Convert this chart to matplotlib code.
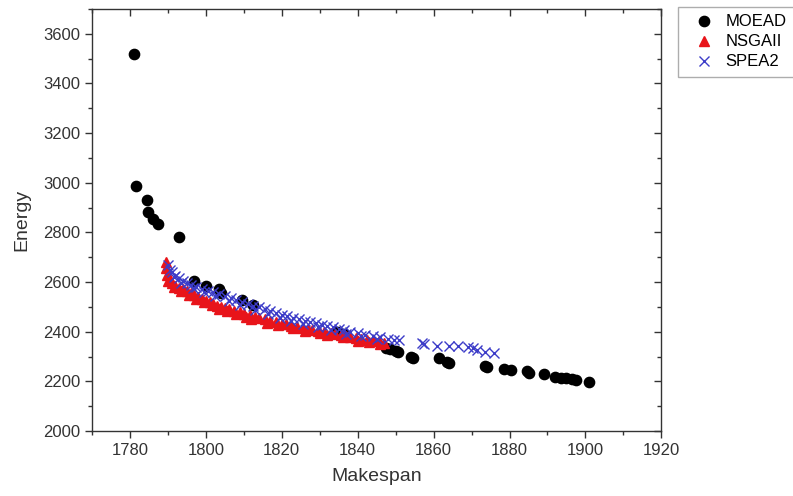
import numpy as np
import matplotlib.pyplot as plt
from matplotlib.ticker import MultipleLocator

plt.rcParams['font.family'] = ['Liberation Sans', 'DejaVu Sans']

# Pareto fronts (Makespan, Energy) for the three algorithms
moead_x = [1781, 1781.5, 1784.5, 1784.7, 1786, 1787.5, 1793, 1797, 1800, 1803.5, 1804,
           1809.5, 1812.5, 1834.5, 1836.5, 1847.5, 1848.5, 1850, 1850.5, 1854, 1854.5,
           1861.5, 1863.5, 1864, 1873.5, 1874, 1878.5, 1880.5, 1884.5, 1885, 1889,
           1892, 1893.5, 1895, 1896.5, 1897.5, 1901]
moead_y = [3518, 2988, 2932, 2881, 2854, 2834, 2783, 2604, 2586, 2573, 2556,
           2526, 2506, 2399, 2392, 2335, 2330, 2322, 2318, 2300, 2296,
           2293, 2278, 2272, 2262, 2256, 2250, 2246, 2240, 2234, 2228,
           2218, 2215, 2212, 2210, 2205, 2198]

nsga_x = [1789.5, 1789.6, 1789.8, 1790, 1791, 1792, 1793, 1794, 1795, 1796, 1797, 1798,
          1799, 1800, 1801, 1802, 1803, 1804, 1805, 1806, 1807.5, 1809, 1810, 1811.5,
          1813, 1814, 1815.5, 1817, 1818.5, 1820, 1821, 1822.5, 1824, 1825.5, 1827,
          1828, 1829.5, 1831, 1833, 1834, 1835.5, 1837, 1838, 1839.5, 1841, 1842.5,
          1844, 1845.5, 1847,
          1790.5, 1791.5, 1793.5, 1795.5, 1797.5, 1799.5, 1801.5, 1803.5, 1805.5, 1808,
          1810.5, 1812, 1816, 1819, 1823, 1826, 1830, 1832, 1836, 1840, 1843, 1846]
nsga_y = [2680, 2655, 2630, 2605, 2595, 2585, 2578, 2570, 2562, 2555, 2547, 2538,
          2532, 2525, 2520, 2512, 2505, 2500, 2495, 2492, 2485, 2478, 2472, 2466,
          2460, 2455, 2450, 2444, 2438, 2433, 2430, 2425, 2420, 2416, 2412,
          2408, 2404, 2400, 2394, 2390, 2386, 2382, 2379, 2375, 2372, 2368,
          2365, 2362, 2356,
          2612, 2580, 2565, 2548, 2530, 2518, 2506, 2490, 2482, 2470,
          2460, 2452, 2436, 2426, 2414, 2404, 2396, 2388, 2378, 2364, 2358, 2350]

spea_x = [1790, 1790.5, 1791, 1792, 1793, 1794, 1795, 1796, 1797.5, 1799, 1800.5, 1802,
          1803.5, 1805, 1806.5, 1808, 1809.5, 1811, 1812.5, 1814, 1815.5, 1817, 1818.5,
          1820, 1821.5, 1823, 1824.5, 1826, 1827.5, 1829, 1830.5, 1832, 1833.5, 1835,
          1836.5, 1838, 1840, 1842, 1844, 1846, 1848, 1851, 1857, 1857.5, 1861, 1864,
          1866.5, 1869, 1870.5, 1871.5, 1873.5, 1876,
          1791.5, 1793.5, 1796.5, 1799.5, 1802.5, 1806, 1809, 1813, 1816.5, 1819.5,
          1822.5, 1825.5, 1829.5, 1833, 1837, 1841, 1845, 1849.5]
spea_y = [2670, 2650, 2640, 2625, 2615, 2605, 2598, 2590, 2580, 2572, 2565, 2558,
          2550, 2543, 2535, 2528, 2520, 2512, 2505, 2498, 2490, 2482, 2475,
          2468, 2462, 2455, 2450, 2445, 2440, 2434, 2428, 2422, 2418, 2412,
          2407, 2400, 2395, 2388, 2382, 2378, 2372, 2365, 2355, 2352, 2342, 2341,
          2341, 2339, 2334, 2326, 2318, 2314,
          2620, 2595, 2575, 2558, 2542, 2525, 2508, 2488, 2470, 2455,
          2445, 2432, 2418, 2405, 2392, 2382, 2372, 2366]

fig = plt.figure(figsize=(7.93, 4.96), dpi=100)
ax = fig.add_axes([0.116, 0.131, 0.718, 0.851])

ax.plot(moead_x, moead_y, 'o', color='black', ms=7.4, ls='none', label='MOEAD')
ax.plot(nsga_x, nsga_y, '^', color='#e8141a', ms=6.8, ls='none', label='NSGAII')
ax.plot(spea_x, spea_y, 'x', color='#3c3cc8', ms=7, mew=1.0, ls='none', label='SPEA2')

ax.set_xlim(1770, 1920)
ax.set_ylim(2000, 3700)
ax.xaxis.set_major_locator(MultipleLocator(20))
ax.xaxis.set_minor_locator(MultipleLocator(10))
ax.yaxis.set_minor_locator(MultipleLocator(100))
ax.set_yticks(np.arange(2000, 3601, 200))

for side in ax.spines.values():
    side.set_linewidth(1.0)
    side.set_color('#333333')

ax.tick_params(which='both', direction='out', colors='#333333', labelsize=12,
               labelcolor='#333333', top=True, right=True,
               labeltop=False, labelright=False)
ax.tick_params(which='major', length=5, width=1.0)
ax.tick_params(which='minor', length=3, width=1.0)

# top and right ticks point into the axes
for t in ax.xaxis.get_major_ticks() + ax.xaxis.get_minor_ticks():
    t.tick2line.set_marker(3)
for t in ax.yaxis.get_major_ticks() + ax.yaxis.get_minor_ticks():
    t.tick2line.set_marker(0)

ax.set_xlabel('Makespan', fontsize=14, color='#333333', labelpad=7)
ax.set_ylabel('Energy', fontsize=14, color='#333333', labelpad=9)

fig.legend(loc='upper left', bbox_to_anchor=(678 / 793, 1 - 7 / 496),
           borderaxespad=0, fontsize=12, frameon=True, fancybox=False,
           edgecolor='#999999', borderpad=0.45, handlelength=2.2,
           handletextpad=0.2, labelspacing=0.3, numpoints=1)

fig.savefig('out.png', dpi=100)
